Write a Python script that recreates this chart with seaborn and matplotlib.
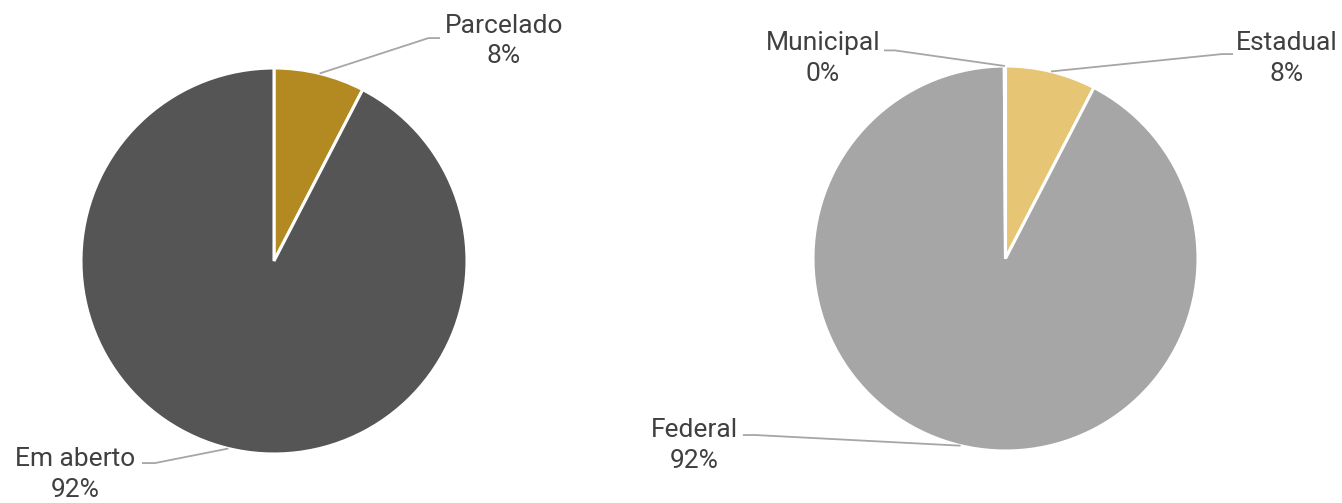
import numpy as np
import matplotlib
matplotlib.use("Agg")
import matplotlib.pyplot as plt
import seaborn as sns

# ---- data ----
left_labels = ["Parcelado", "Em aberto"]
left_values = [7.6, 92.4]
left_colors = ["#B38A22", "#555555"]

right_labels = ["Estadual", "Federal", "Municipal"]
right_values = [7.6, 92.3, 0.1]
right_colors = ["#E6C675", "#A6A6A6", "#A6A6A6"]

sns.set_theme(style="white")
plt.rcParams['font.family'] = ['Roboto', 'DejaVu Sans']

W, H = 1342, 503
fig = plt.figure(figsize=(W / 100, H / 100), dpi=100)

TEXT_C = "#404040"
LINE_C = "#A6A6A6"


def make_axes(cx, cy, r):
    ax = fig.add_axes([(cx - r) / W, (H - (cy + r)) / H, 2 * r / W, 2 * r / H])
    return ax


def draw_pie(ax, values, colors, labels, layout):
    wedges, _ = ax.pie(values, colors=colors, startangle=90, counterclock=False,
                       radius=1.0, wedgeprops=dict(edgecolor="white", linewidth=2.2))
    ax.set_xlim(-1, 1)
    ax.set_ylim(-1, 1)
    ax.set_aspect("equal")
    ax.axis("off")
    total = sum(values)
    for w, v, lab in zip(wedges, values, labels):
        text_xy, line_pts = layout[lab]
        mid = np.deg2rad((w.theta1 + w.theta2) / 2)
        start = (np.cos(mid), np.sin(mid))
        xs = [start[0]] + [p[0] for p in line_pts]
        ys = [start[1]] + [p[1] for p in line_pts]
        ax.plot(xs, ys, color=LINE_C, lw=1.3, clip_on=False, solid_capstyle="butt")
        pct = f"{round(v / total * 100):.0f}%"
        ax.text(text_xy[0], text_xy[1], f"{lab}\n{pct}", ha="center", va="center",
                fontsize=19, color=TEXT_C, linespacing=1.36, clip_on=False)


# ---- layout (label positions in axes data units) ----
left_layout = {
    "Parcelado": ((1.19, 1.14), [(0.80, 1.155), (0.86, 1.155)]),
    "Em aberto": ((-1.031, -1.105), [(-0.617, -1.047), (-0.684, -1.047)]),
}
right_layout = {
    "Estadual": ((1.462, 1.04), [(1.125, 1.062), (1.182, 1.062)]),
    "Federal": ((-1.618, -0.97), [(-1.30, -0.917), (-1.364, -0.917)]),
    "Municipal": ((-0.948, 1.04), [(-0.574, 1.081), (-0.631, 1.081)]),
}

ax1 = make_axes(274, 261, 193)
draw_pie(ax1, left_values, left_colors, left_labels, left_layout)

ax2 = make_axes(1005.5, 258.5, 192.5)
draw_pie(ax2, right_values, right_colors, right_labels, right_layout)

fig.savefig("out.png", dpi=100, facecolor="white")
